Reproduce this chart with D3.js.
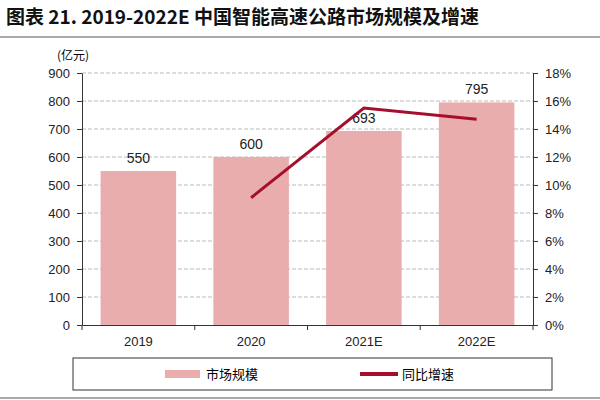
<!DOCTYPE html>
<html><head><meta charset="utf-8">
<script src="https://cdn.jsdelivr.net/npm/d3@7"></script>
<style>body{margin:0;background:#fff}</style>
</head><body>
<script>
const years = ["2019", "2020", "2021E", "2022E"];
const market = [550, 600, 693, 795];
const growth = [null, 9.09, 15.5, 14.7];
const leftTicks = [0, 100, 200, 300, 400, 500, 600, 700, 800, 900];
const rightTicks = [0, 2, 4, 6, 8, 10, 12, 14, 16, 18];

const svg = d3.select("body").append("svg")
    .attr("width", 600).attr("height", 400)
    .style("font-family", "Liberation Sans, Arial, sans-serif");

const pl = 82, pr = 533, pt = 73, pb = 325;
const x = d3.scaleBand().domain(years).range([pl, pr]).paddingInner(0.33).paddingOuter(0.165);
const xb = d3.scaleBand().domain(years).range([pl, pr]);
const y = d3.scaleLinear().domain([0, 900]).range([pb, pt]);
const y2 = d3.scaleLinear().domain([0, 18]).range([pb, pt]);

// title
svg.append("text").attr("x", 6).attr("y", 24)
    .attr("font-size", 19).attr("font-weight", "bold").attr("fill", "#111")
    .style("font-family", "Noto Sans CJK SC, sans-serif")
    .text("图表 21. 2019-2022E 中国智能高速公路市场规模及增速");
svg.append("line").attr("x1", 0).attr("x2", 600).attr("y1", 37).attr("y2", 37)
    .attr("stroke", "#555").attr("stroke-width", 1);

svg.append("text").attr("x", 57).attr("y", 60).attr("font-size", 12)
    .style("font-family", "Noto Sans CJK SC, sans-serif").text("(亿元)");

// grid
svg.append("g").selectAll("line").data(leftTicks.slice(1)).enter().append("line")
    .attr("x1", pl).attr("x2", pr).attr("y1", d => y(d)).attr("y2", d => y(d))
    .attr("stroke", "#bbb").attr("stroke-dasharray", "4,2");

// bars
svg.append("g").selectAll("rect").data(market).enter().append("rect")
    .attr("x", (d, i) => x(years[i])).attr("width", x.bandwidth())
    .attr("y", d => y(d)).attr("height", d => pb - y(d))
    .attr("fill", "#e8adac");

svg.append("g").selectAll("text").data(market).enter().append("text")
    .attr("x", (d, i) => x(years[i]) + x.bandwidth() / 2).attr("y", d => y(d) - 8)
    .attr("text-anchor", "middle").attr("font-size", 14).attr("fill", "#222")
    .text(d => d);

// line
const pts = growth.map((g, i) => [g, years[i]]).filter(d => d[0] != null);
svg.append("path").datum(pts)
    .attr("d", d3.line().x(d => xb(d[1]) + xb.bandwidth() / 2).y(d => y2(d[0])))
    .attr("fill", "none").attr("stroke", "#a50f2d").attr("stroke-width", 3);

// axes
const axL = svg.append("g").attr("transform", `translate(${pl},0)`)
    .call(d3.axisLeft(y).tickValues(leftTicks).tickSize(5).tickSizeOuter(0));
const axR = svg.append("g").attr("transform", `translate(${pr},0)`)
    .call(d3.axisRight(y2).tickValues(rightTicks).tickSize(5).tickSizeOuter(0).tickFormat(d => d + "%"));
const axB = svg.append("g").attr("transform", `translate(0,${pb})`)
    .call(d3.axisBottom(xb).tickSize(0).tickSizeOuter(0));
axB.selectAll("text").attr("dy", "1.4em");
svg.append("g").selectAll("line").data(years.concat(["end"])).enter().append("line")
    .attr("x1", (d, i) => pl + i * xb.bandwidth()).attr("x2", (d, i) => pl + i * xb.bandwidth())
    .attr("y1", pb).attr("y2", pb + 5).attr("stroke", "#333");
[axL, axR, axB].forEach(a => {
    a.selectAll("text").attr("font-size", 13).attr("fill", "#222")
        .style("font-family", "Liberation Sans, Arial, sans-serif");
    a.selectAll("path,line").attr("stroke", "#333");
});
axL.selectAll("text").attr("x", -12);
axR.selectAll("text").attr("x", 12);

// legend
svg.append("rect").attr("x", 73).attr("y", 358).attr("width", 479).attr("height", 32)
    .attr("fill", "none").attr("stroke", "#333");
const lg = svg.append("g").style("font-family", "Noto Sans CJK SC, sans-serif").attr("font-size", 13);
lg.append("rect").attr("x", 165).attr("y", 370).attr("width", 35).attr("height", 8).attr("fill", "#e8adac");
lg.append("text").attr("x", 206).attr("y", 379).text("市场规模");
lg.append("rect").attr("x", 360).attr("y", 372).attr("width", 38).attr("height", 4).attr("fill", "#a50f2d");
lg.append("text").attr("x", 402).attr("y", 379).text("同比增速");

svg.append("line").attr("x1", 0).attr("x2", 600).attr("y1", 398).attr("y2", 398)
    .attr("stroke", "#555");
</script>
</body></html>
